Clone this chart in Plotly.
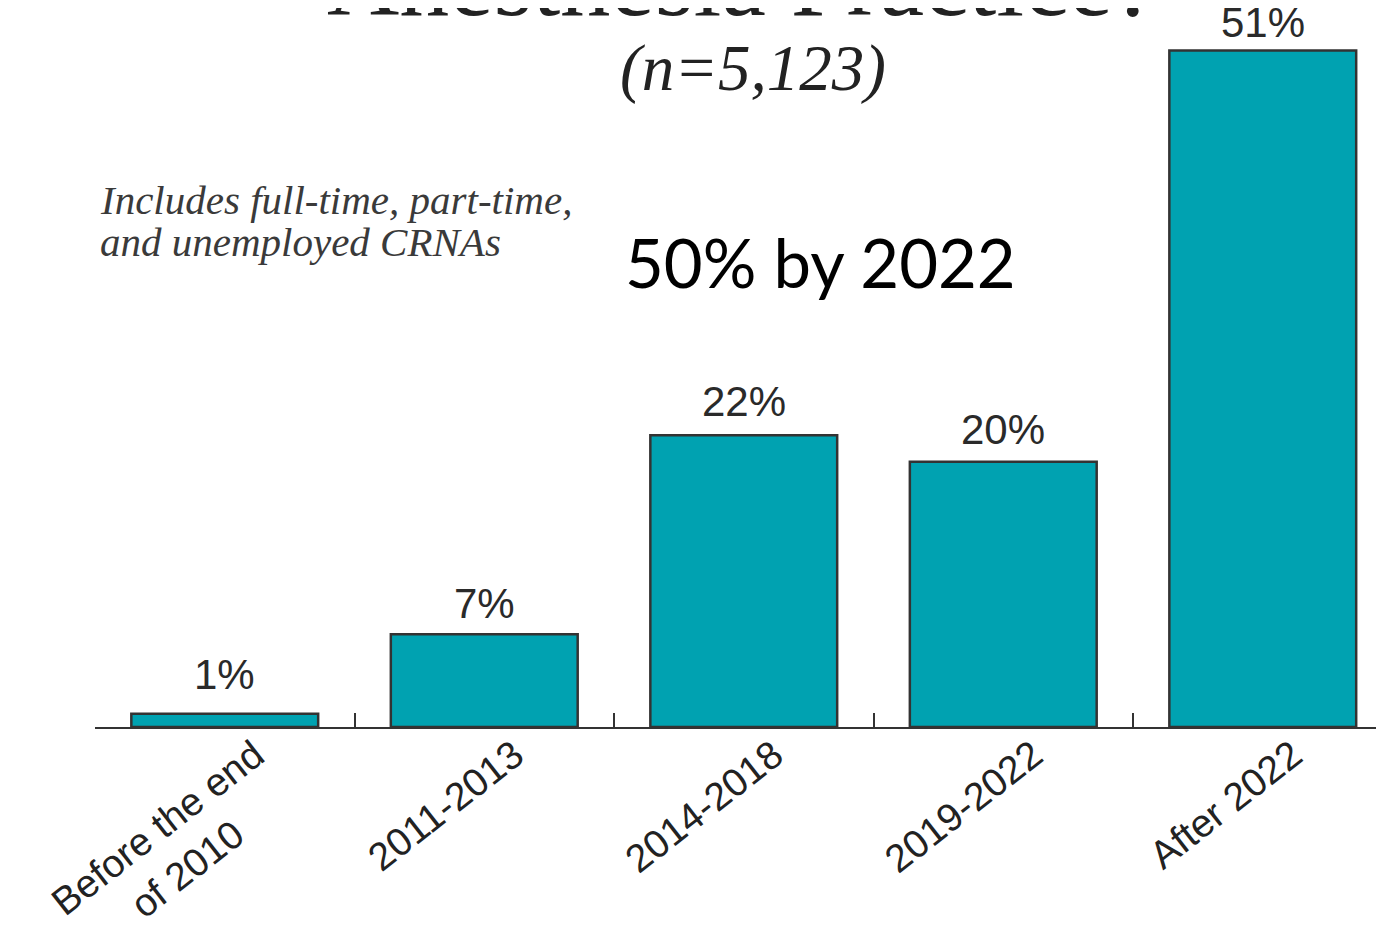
import plotly.graph_objects as go

# dane
kategorie = ["Before the end<br>of 2010\u00a0\u00a0\u00a0\u00a0\u00a0\u00a0",
             "2011-2013", "2014-2018", "2019-2022", "After 2022"]
procenty = [1, 7, 22, 20, 51]
etykiety = ["1%", "7%", "22%", "20%", "51%"]

# odsunięcie etykiet od słupków (px), jak na oryginale
odsuniecia = [14, 5, 8, 7, 2]

TURKUS = "#00A2B1"
OBRYS = "#333333"

fig = go.Figure()

fig.add_trace(go.Bar(
    x=kategorie,
    y=procenty,
    marker=dict(color=TURKUS, line=dict(color=OBRYS, width=2.5)),
    showlegend=False,
))

# etykiety wartości nad słupkami
for kat, wart, etyk, dy in zip(kategorie, procenty, etykiety, odsuniecia):
    fig.add_annotation(
        x=kat, y=wart, text=etyk,
        xanchor="center", yanchor="bottom", yshift=dy,
        showarrow=False,
        font=dict(family="Liberation Sans", size=42, color="#2a2a2a"),
    )

# tytuł (ucięty u góry, jak na oryginale)
fig.add_annotation(
    text="Anesthesia Practice?",
    xref="paper", yref="paper", x=0.499, y=1,
    xanchor="center", yanchor="bottom", yshift=-31,
    showarrow=False,
    font=dict(family="Liberation Serif", size=100, color="#222222"),
)
fig.add_annotation(
    text="<i>(n=5,123)</i>",
    xref="paper", yref="paper", x=0.507, y=1,
    xanchor="center", yanchor="middle", yshift=-60,
    showarrow=False,
    font=dict(family="Liberation Serif", size=65, color="#222222"),
)
for tekst, przes in [("<i>Includes full-time, part-time,</i>", -192),
                     ("<i>and unemployed CRNAs</i>", -234)]:
    fig.add_annotation(
        text=tekst,
        xref="paper", yref="paper", x=0.002, y=1,
        xanchor="left", yanchor="middle", yshift=przes,
        showarrow=False,
        font=dict(family="Liberation Serif", size=41, color="#3a3a3a"),
    )
fig.add_annotation(
    text="50% by 2022",
    xref="paper", yref="paper", x=0.407, y=1,
    xanchor="left", yanchor="middle", yshift=-254,
    showarrow=False,
    font=dict(family="Lato", size=67, color="#000000"),
)

fig.update_layout(
    width=1384, height=927,
    margin=dict(l=87, r=0, t=0, b=208),
    paper_bgcolor="white",
    plot_bgcolor="white",
    bargap=0.28,
    xaxis=dict(
        range=[-0.5, 4.498],
        automargin=False,
        showline=True, linecolor=OBRYS, linewidth=2,
        ticks="inside", tickson="boundaries", ticklen=14,
        tickcolor=OBRYS, tickwidth=2,
        tickangle=-38,
        ticklabelshift=30,
        ticklabelstandoff=-12,
        tickfont=dict(family="Liberation Sans", size=39, color="#222222"),
        showgrid=False,
    ),
    yaxis=dict(
        range=[0, 54.2],
        visible=False,
        showgrid=False,
        zeroline=False,
    ),
)

fig.write_html("out.html")
